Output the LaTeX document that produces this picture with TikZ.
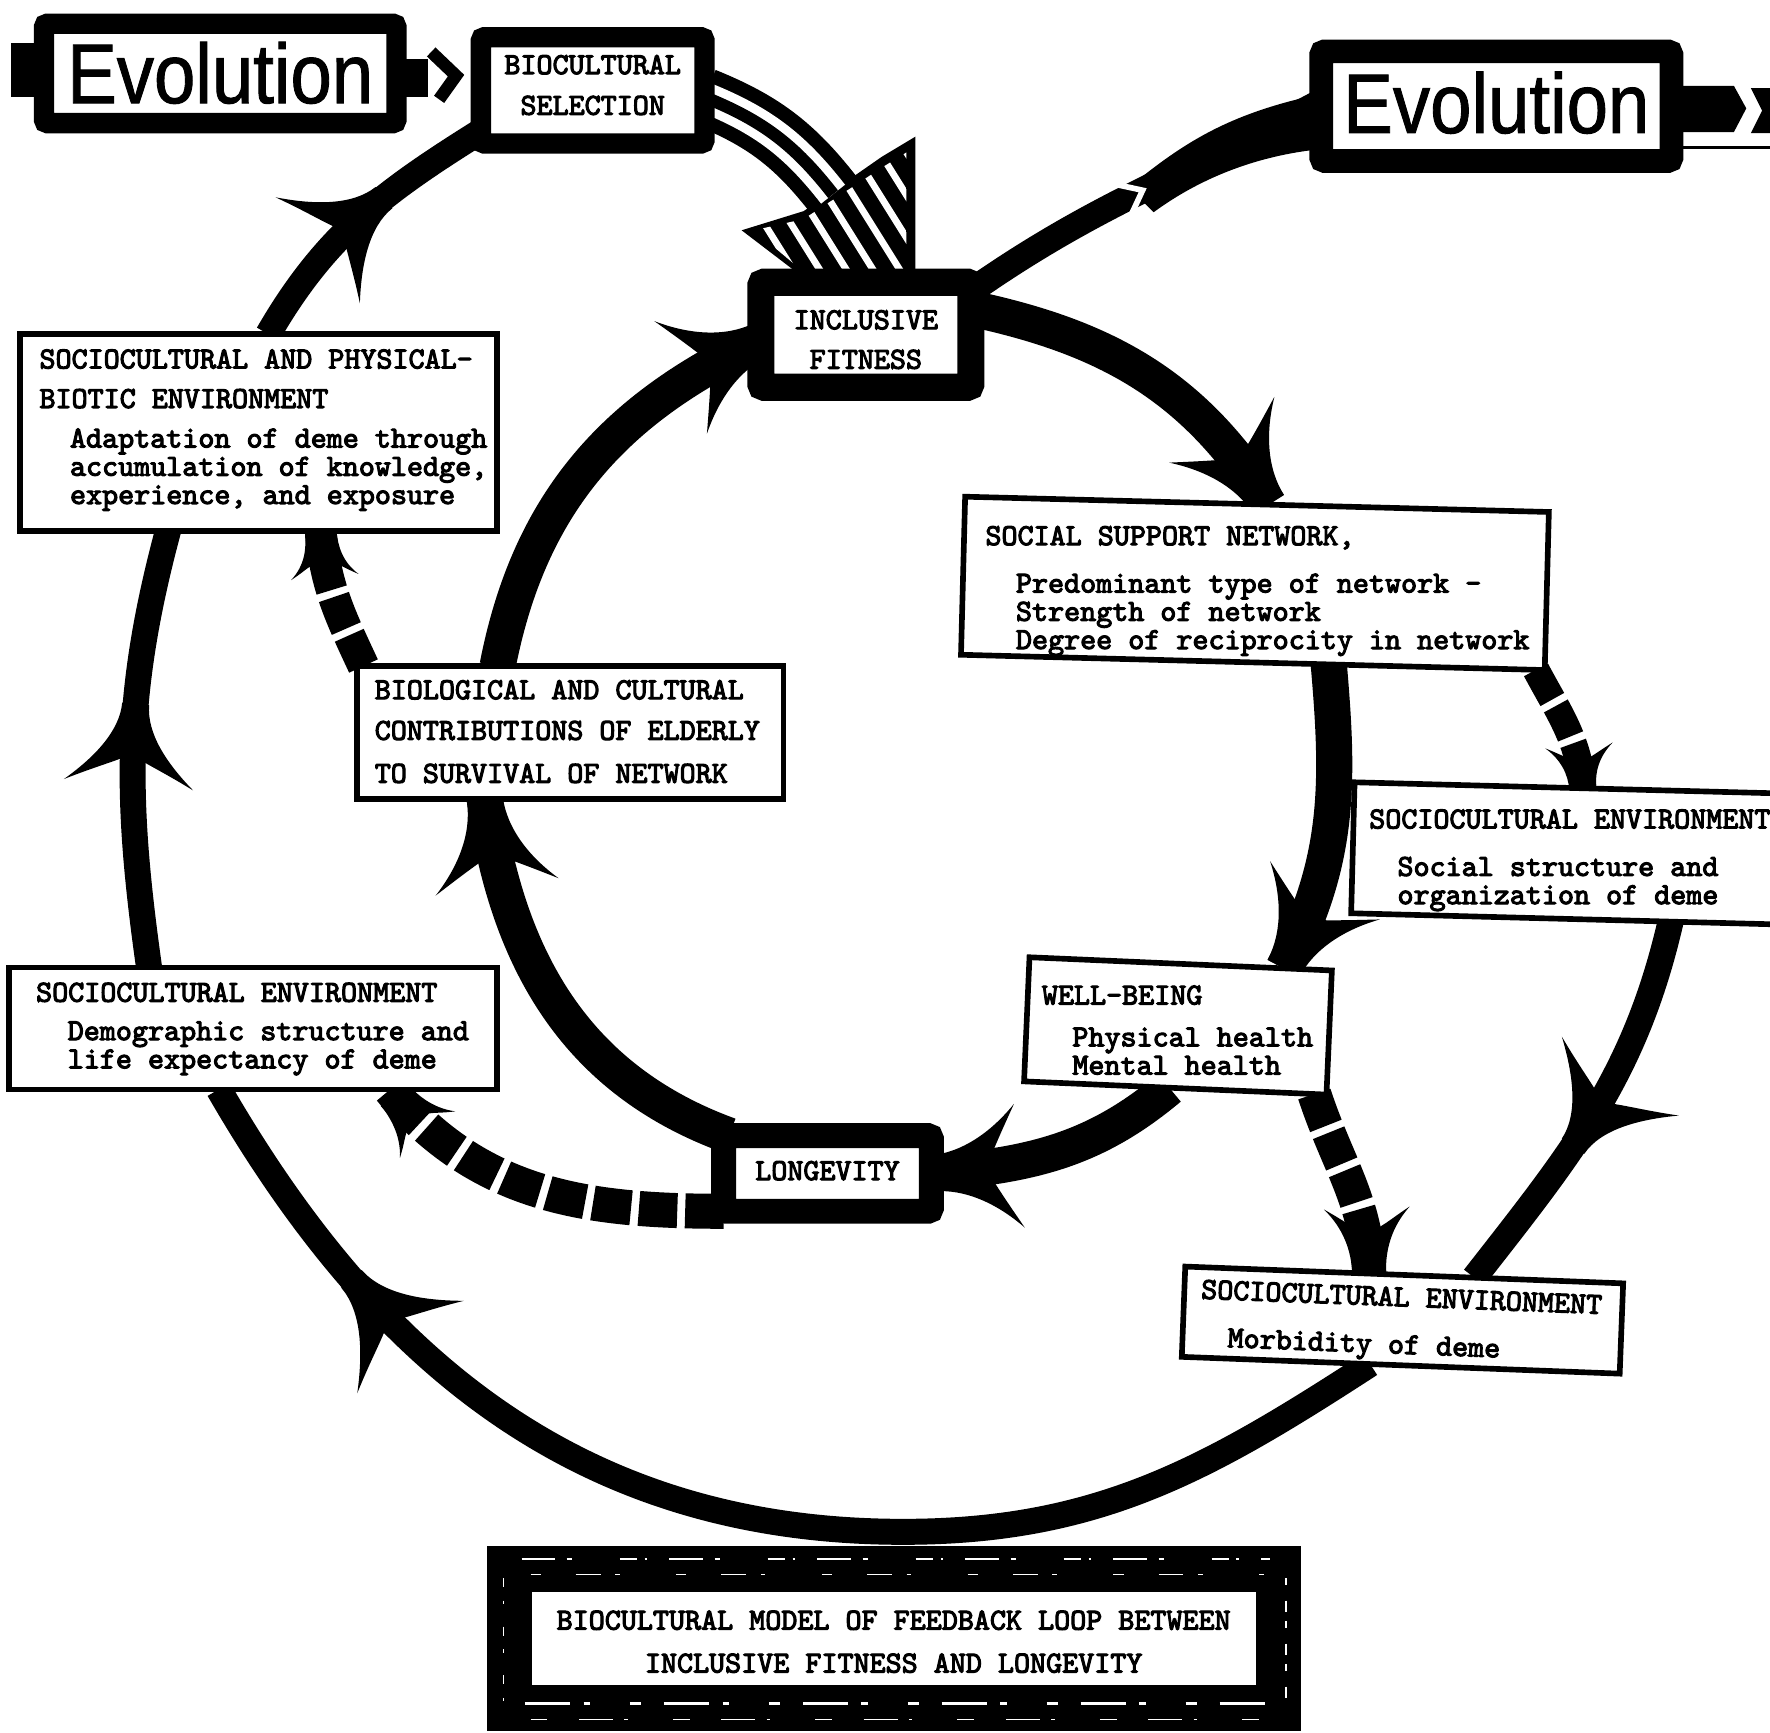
\documentclass[tikz,border=0pt]{standalone}
\usepackage{fontspec}
\usepackage{graphicx}
\newfontfamily\tw{lmmono10-regular}[Extension=.otf,FakeBold=3.5]
\newfontfamily\evofont{Liberation Sans}[FakeBold=1.2]
\usetikzlibrary{calc,decorations.markings,backgrounds}
\newcommand\twf{\tw\fontsize{7.7pt}{0.25cm}\selectfont\lineskiplimit=-10pt\relax}
\newcommand\evf{\evofont\fontsize{21.3pt}{24pt}\selectfont}
\newcommand\bxt[4]{\parbox[t][#2][t]{#1}{\raggedright\vspace*{#3}#4}}
\newcommand\bxc[4]{\parbox[t][#2][t]{#1}{\centering\vspace*{#3}#4}}
\newcommand\barbhead[3]{%
\fill (0,#3) .. controls (-0.35*#1,#3) and (-0.7*#1,0.28*#2) .. (-#1,0.5*#2)
 .. controls (-0.8*#1,0.25*#2) and (-0.72*#1,#3) .. (-0.62*#1,0)
 .. controls (-0.72*#1,-#3) and (-0.8*#1,-0.25*#2) .. (-#1,-0.5*#2)
 .. controls (-0.7*#1,-0.28*#2) and (-0.35*#1,-#3) .. (0,-#3) -- cycle;}
\begin{document}
\begin{tikzpicture}[x=0.01cm,y=-0.01cm,
 tbox/.style={draw, line width=0.05cm, fill=white, inner sep=0pt, outer sep=0pt, font=\twf},
 txt/.style={inner sep=0pt, outer sep=0pt, font=\twf},
 thbox/.style={draw, fill=white, inner sep=0pt, outer sep=0pt, font=\twf, rounded corners=0.03cm},
 obd/.style={line width=0.23cm},
 ibd/.style={line width=0.32cm},
 dbd/.style={dash pattern=on 0.3cm off 0.065cm},
 headat/.style n args={4}{postaction={decorate,decoration={markings,mark=at position #1 with {\barbhead{#2}{#3}{#4}}}}},
]
\useasboundingbox (0,0) rectangle (1568,1535);

% ---------- boxes ----------
\node[thbox, line width=0.18cm, anchor=north west] (evoL) at (39,21)
 {\bxc{3.12cm}{0.88cm}{0.16cm}{\scalebox{0.88}[1]{\evf Evolution}}};
\node[thbox, line width=0.21cm, anchor=north west] (evoR) at (1170.5,45.5)
 {\bxc{3.10cm}{0.97cm}{0.18cm}{\scalebox{0.88}[1]{\evf Evolution}}};
\node[thbox, line width=0.18cm, anchor=north west] (sel) at (426,33)
 {\bxc{1.98cm}{0.94cm}{0.1575cm}{BIOCULTURAL\\[0.11cm]SELECTION}};
\node[thbox, line width=0.24cm, anchor=north west] (ifit) at (674,250)
 {\bxc{1.86cm}{0.93cm}{0.2475cm}{INCLUSIVE\\[0.1cm]FITNESS}};
\node[thbox, line width=0.22cm, anchor=north west] (long) at (641,1006)
 {\bxc{1.84cm}{0.67cm}{0.225cm}{LONGEVITY}};
\node[thbox, line width=0.40cm, rounded corners=0pt, anchor=north west] (title) at (451,1390)
 {\bxc{6.81cm}{1.23cm}{0.3675cm}{BIOCULTURAL MODEL OF FEEDBACK LOOP BETWEEN\\[0.13cm]INCLUSIVE FITNESS AND LONGEVITY}};

\node[tbox, anchor=north west] (A) at (18,296) {\bxt{4.22cm}{1.74cm}{0.135cm}{%
\hspace*{0.17cm}SOCIOCULTURAL AND PHYSICAL-\\[0.1cm]
\hspace*{0.17cm}BIOTIC ENVIRONMENT\\[0.1cm]
\hspace*{0.44cm}Adaptation of deme through\\
\hspace*{0.44cm}accumulation of knowledge,\\
\hspace*{0.44cm}experience, and exposure}};
\node[tbox, anchor=north west] (bio) at (316,590) {\bxt{3.78cm}{1.18cm}{0.125cm}{%
\hspace*{0.16cm}BIOLOGICAL AND CULTURAL\\[0.11cm]
\hspace*{0.16cm}CONTRIBUTIONS OF ELDERLY\\[0.13cm]
\hspace*{0.16cm}TO SURVIVAL OF NETWORK}};

\node[tbox, anchor=north west, rotate=-1.5, minimum width=5.17cm, minimum height=1.40cm] (ssn) at (855,440) {};
\node[txt, anchor=north west] (ssnT) at (ssn.north west) {\bxt{5.17cm}{1.40cm}{0.26cm}{%
\hspace*{0.18cm}SOCIAL SUPPORT NETWORK,\\[0.17cm]
\hspace*{0.45cm}Predominant type of network -\\
\hspace*{0.45cm}Strength of network\\
\hspace*{0.45cm}Degree of reciprocity in network}};

\node[tbox, anchor=north west, rotate=-1.5, minimum width=4.30cm, minimum height=1.16cm] (F) at (1200,693) {};
\node[txt, anchor=north west] (FT) at (F.north west) {\bxt{4.30cm}{1.16cm}{0.24cm}{%
\hspace*{0.13cm}SOCIOCULTURAL ENVIRONMENT\\[0.17cm]
\hspace*{0.38cm}Social structure and\\
\hspace*{0.38cm}organization of deme}};

\node[tbox, anchor=north west, rotate=-2.5, minimum width=2.68cm, minimum height=1.10cm] (wb) at (912,848) {};
\node[txt, anchor=north west] (wbT) at (wb.north west) {\bxt{2.68cm}{1.10cm}{0.25cm}{%
\hspace*{0.11cm}WELL-BEING\\[0.12cm]
\hspace*{0.38cm}Physical health\\
\hspace*{0.38cm}Mental health}};

\node[tbox, anchor=north west] (E) at (8,857) {\bxt{4.32cm}{1.08cm}{0.135cm}{%
\hspace*{0.24cm}SOCIOCULTURAL ENVIRONMENT\\[0.09cm]
\hspace*{0.52cm}Demographic structure and\\
\hspace*{0.52cm}life expectancy of deme}};
\node[tbox, anchor=north west, rotate=-2.2] (morb) at (1050,1122) {\bxt{3.88cm}{0.80cm}{0.11cm}{%
\hspace*{0.15cm}SOCIOCULTURAL ENVIRONMENT\\[0.17cm]
\hspace*{0.40cm}Morbidity of deme}};

% ---------- small stubs beside the Evolution boxes ----------
\fill (10,38) rectangle (32,86);
\draw[line width=0.33cm] ($(evoL.east)+(0,4)$) -- ($(evoL.east)+(28,4)$);
\draw[line width=0.11cm, miter limit=20] (382,46) -- (404,67) -- (389,88);
\fill (1489,76) -- (1536,76) -- (1547,96) -- (1536,117) -- (1489,117) -- cycle;
\fill (1551,78) -- (1580,78) -- (1580,118) -- (1551,118) -- (1561,98) -- cycle;
\draw[line width=0.025cm] (1489,131) -- (1580,131);

% ---------- texture on the title frame ----------
\draw[white, line width=0.018cm, dash pattern=on 0.3cm off 0.1cm on 0.05cm off 0.42cm on 0.15cm off 0.07cm on 0.02cm off 0.2cm] (462,1381) -- (1125,1381);
\draw[white, line width=0.012cm, dash pattern=on 0.09cm off 0.31cm on 0.22cm off 0.13cm on 0.04cm off 0.5cm] (470,1395) -- (1120,1395);
\draw[white, line width=0.02cm, dash pattern=on 0.4cm off 0.12cm on 0.06cm off 0.35cm on 0.1cm off 0.2cm] (465,1509) -- (1125,1509);
\draw[white, line width=0.012cm, dash pattern=on 0.15cm off 0.28cm on 0.3cm off 0.1cm on 0.03cm off 0.4cm] (470,1523) -- (1120,1523);
\draw[white, line width=0.015cm, dash pattern=on 0.08cm off 0.12cm on 0.03cm off 0.2cm] (446,1398) -- (446,1508);
\draw[white, line width=0.015cm, dash pattern=on 0.06cm off 0.14cm on 0.1cm off 0.08cm] (1139,1398) -- (1139,1508);

\begin{pgfonlayer}{background}
\fill[white] (0,0) rectangle (1568,1535);

% ---------- hatched arrow: selection -> inclusive fitness ----------
\coordinate (hsE) at (738,172);
\fill (657,204) -- (712,187) -- (781,139) -- (811,121) -- (811,246) -- (712,246) -- cycle;
\begin{scope}
\clip (668,204) -- (712,194) -- (782,148) -- (803,135) -- (803,246) -- (718,246) -- cycle;
\foreach \k in {0,...,12}
 \draw[white, line width=0.06cm] ($(638,249)+\k*(17,-10.6)+(-90,-144)$) -- ++(180,288);
\end{scope}
\draw[line width=0.52cm] ($(sel.east)+(0,6)$) to[out=-22,in=128] (hsE);
\draw[white, line width=0.27cm] ($(sel.east)+(0,6)$) to[out=-22,in=128] (hsE);
\draw[line width=0.11cm] ($(sel.east)+(0,6)$) to[out=-22,in=128] (hsE);

% ---------- inner loop ----------
\draw[ibd, headat={0.999}{78}{110}{16}] ($(ifit.north east)!0.25!(ifit.south east)$) to[out=-12,in=122] ($(ssn.north west)!0.52!(ssn.north east)$);
\draw[ibd, headat={0.999}{78}{110}{16}] ($(ssn.south west)!0.63!(ssn.south east)$) to[out=-85,in=62] ($(wb.north west)!0.84!(wb.north east)$);
\draw[ibd, headat={0.999}{78}{110}{16}] ($(wb.south west)!0.48!(wb.south east)$) to[out=-140,in=5] (long.east);
\draw[ibd, headat={0.999}{78}{110}{16}] ($(long.north west)+(5,0)$) to[out=160,in=-82] ($(bio.south west)!0.3!(bio.south east)$);
\draw[ibd, headat={0.999}{78}{110}{16}] ($(bio.north west)!0.33!(bio.north east)$) to[out=79,in=205] ($(ifit.north west)!0.55!(ifit.south west)$);

% ---------- outer loop ----------
\draw[obd, headat={0.6}{75}{120}{12}] ($(A.north west)!0.52!(A.north east)$) to[out=60,in=212] ($(sel.south west)+(2,-12)$);
\draw[obd, headat={0.6}{72}{115}{12}] ($(E.north west)!0.287!(E.north east)$) to[out=98,in=255] ($(A.south west)!0.31!(A.south east)$);
\coordinate (obot) at (800,1357);
\draw[obd, headat={-2.05cm}{80}{125}{12}] ($(morb.south west)!0.43!(morb.south east)$) to[out=213,in=0] (obot) to[out=180,in=300] ($(E.south west)!0.43!(E.south east)$);
\draw[obd, headat={0.6}{75}{125}{12}] ($(F.south west)!0.658!(F.south east)$) to[out=257,in=52] ($(morb.north west)!0.66!(morb.north east)$);
\fill (1000,166) .. controls (1050,125) and (1090,100) .. (1171,83) -- (1171,132) .. controls (1110,138) and (1060,160) .. (1022,188) -- cycle;
\draw[obd, postaction={decorate,decoration={markings,mark=at position 0.5 with {\draw[white,line width=0.05cm] (-20,-16) -- (0,0) -- (-20,16);}}}]
 ($(ifit.north east)+(0,8)$) to[out=35,in=208] ($(evoR.west)+(0,-4)$);

% ---------- dashed connectors ----------
\draw[line width=0.28cm, dbd, headat={0.99}{40}{60}{14}] ($(bio.north west)+(6,0)$) to[out=115,in=-85] ($(A.south west)!0.63!(A.south east)$);
\draw[line width=0.31cm, dash pattern=on 0.34cm off 0.07cm, headat={0.999}{52}{64}{15}] (long.south west) to[out=180,in=-50] ($(E.south west)!0.78!(E.south east)$);
\draw[line width=0.24cm, dbd, headat={0.999}{38}{60}{12}] ($(ssn.south west)!0.985!(ssn.south east)$) to[out=-62,in=95] ($(F.north west)!0.47!(F.north east)$);
\draw[line width=0.3cm, dbd, headat={0.999}{58}{76}{15}] ($(wb.south west)!0.96!(wb.south east)$) to[out=-72,in=92] ($(morb.north west)!0.42!(morb.north east)$);
\end{pgfonlayer}
\end{tikzpicture}
\end{document}
